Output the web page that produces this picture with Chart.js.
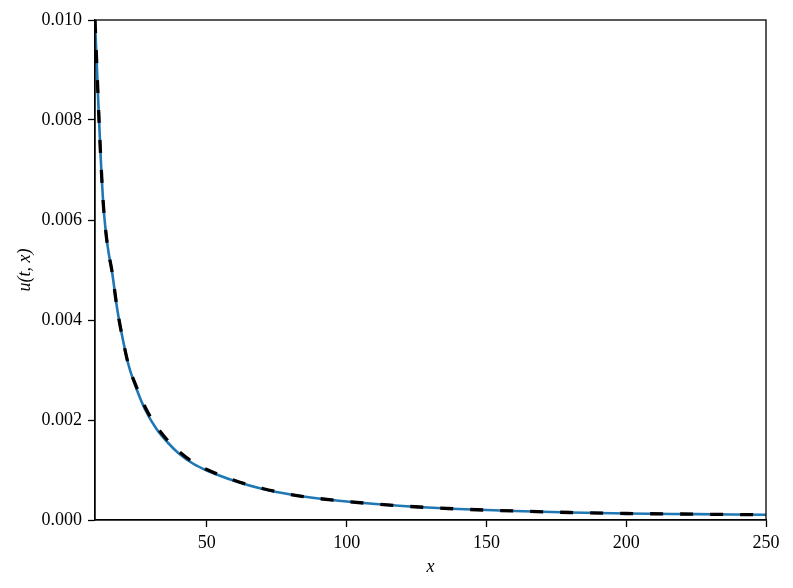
<!DOCTYPE html>
<html>
<head>
<meta charset="utf-8">
<script src="https://cdn.jsdelivr.net/npm/chart.js@4"></script>
<style>
  html, body { margin: 0; padding: 0; background: #ffffff; }
  #wrap { width: 793px; height: 588px; }
</style>
</head>
<body>
<div id="wrap"><canvas id="c" width="793" height="588"></canvas></div>
<script>
// x positions (shared by both series)
const xValues = [10, 11, 12, 13, 14, 15, 16, 18, 20, 22, 25, 28, 32, 36, 40, 45, 50, 60, 70, 80, 90, 100, 120, 140, 160, 180, 200, 225, 250];
// solid blue curve
const solidValues = [0.0100, 0.0086, 0.0073, 0.0063, 0.0057, 0.0053, 0.0050, 0.0042, 0.0036, 0.0031, 0.0026, 0.0022, 0.00182, 0.00155, 0.00133, 0.00113, 0.00099, 0.00078, 0.00062, 0.00051, 0.00043, 0.00037, 0.00028, 0.00022, 0.00018, 0.00015, 0.00013, 0.000117, 0.000104];
// dashed black curve
const dashedValues = [0.0100, 0.0086, 0.0073, 0.0063, 0.0057, 0.0053, 0.0050, 0.0042, 0.0036, 0.0031, 0.00264, 0.00225, 0.00187, 0.00159, 0.00137, 0.00116, 0.00101, 0.00079, 0.00063, 0.00051, 0.00043, 0.00037, 0.00028, 0.00022, 0.00018, 0.00015, 0.00013, 0.000117, 0.000104];
// tick labels
const xTicks = [50, 100, 150, 200, 250];
const yTicks = [0, 0.002, 0.004, 0.006, 0.008, 0.010];

const toPoints = (ys) => xValues.map((x, i) => ({ x: x, y: ys[i] }));
const FONT = "'Liberation Serif', 'Times New Roman', serif";

const framePlugin = {
  id: 'frame',
  afterDatasetsDraw(chart) {
    const a = chart.chartArea, ctx = chart.ctx;
    ctx.save();
    ctx.strokeStyle = '#000';
    ctx.lineWidth = 1.3;
    ctx.strokeRect(a.left, a.top, a.right - a.left, a.bottom - a.top);
    ctx.restore();
  }
};

new Chart(document.getElementById('c'), {
  type: 'scatter',
  data: {
    datasets: [
      {
        label: 'dashed',
        data: toPoints(dashedValues),
        showLine: true,
        borderColor: '#000000',
        borderWidth: 3.3,
        borderDash: [13, 17],
        borderCapStyle: 'butt',
        pointRadius: 0,
        cubicInterpolationMode: 'monotone',
        order: 0
      },
      {
        label: 'solid',
        data: toPoints(solidValues),
        showLine: true,
        borderColor: '#1f77b4',
        borderWidth: 2.6,
        pointRadius: 0,
        cubicInterpolationMode: 'monotone',
        order: 1
      }
    ]
  },
  options: {
    responsive: false,
    animation: false,
    devicePixelRatio: 1,
    layout: { padding: { left: 0, right: 27, top: 20, bottom: 0 } },
    plugins: { legend: { display: false }, tooltip: { enabled: false } },
    scales: {
      x: {
        type: 'linear',
        min: 10,
        max: 250,
        afterBuildTicks: (s) => { s.ticks = xTicks.map(v => ({ value: v })); },
        afterFit: (s) => { s.height = 68; },
        grid: { drawOnChartArea: false, drawTicks: true, tickLength: 7, color: '#000', tickWidth: 1.3 },
        border: { display: true, color: '#000', width: 1.3 },
        ticks: { color: '#000', font: { family: FONT, size: 18 }, padding: 5, maxRotation: 0, autoSkip: false,
                 callback: (v) => String(v) },
        title: { display: true, text: 'x', color: '#000', font: { family: FONT, size: 18, style: 'italic' },
                 padding: { top: 0, bottom: 10 } }
      },
      y: {
        type: 'linear',
        min: 0,
        max: 0.010,
        afterBuildTicks: (s) => { s.ticks = yTicks.map(v => ({ value: v })); },
        afterFit: (s) => { s.width = 95; },
        grid: { drawOnChartArea: false, drawTicks: true, tickLength: 7, color: '#000', tickWidth: 1.3 },
        border: { display: true, color: '#000', width: 1.3 },
        ticks: { color: '#000', font: { family: FONT, size: 18 }, padding: 6, autoSkip: false,
                 callback: (v) => Number(v).toFixed(3) },
        title: { display: true, text: 'u(t, x)', color: '#000', font: { family: FONT, size: 18, style: 'italic' },
                 padding: { top: 14, bottom: 0 } }
      }
    }
  },
  plugins: [framePlugin]
});
</script>
</body>
</html>
